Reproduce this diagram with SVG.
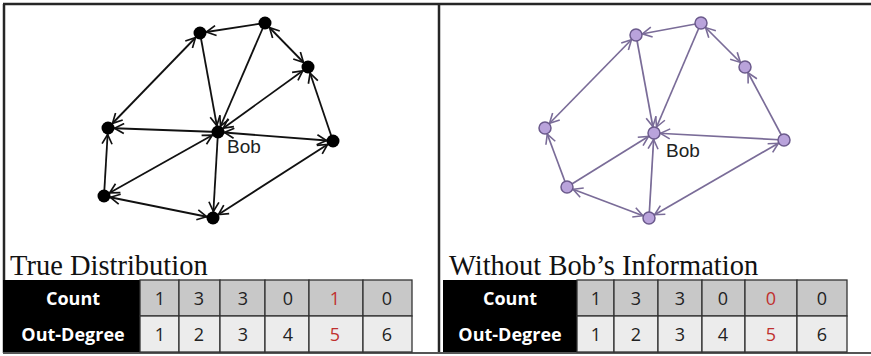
<svg xmlns="http://www.w3.org/2000/svg" width="871" height="356" viewBox="0 0 871 356">
<style>
.frame{stroke:#262626;stroke-width:2.5;fill:none}
.eb{stroke:#111;stroke-width:1.8;fill:none}
.ep{stroke:#7a6c98;stroke-width:1.7;fill:none}
.nb{fill:#000}
.np{fill:#b9a3db;stroke:#6b5a8c;stroke-width:1.5}
.bob{font-family:"Liberation Sans",Arial,sans-serif;font-size:19px;fill:#222}
.title{font-family:"Liberation Serif","Times New Roman",serif;font-size:28.5px;fill:#111}
.hdr{fill:#000}
.c1{fill:#c8c8c8;stroke:#333;stroke-width:1.3}
.c2{fill:#ececec;stroke:#333;stroke-width:1.3}
.hl{font-family:"Open Sans","Liberation Sans",sans-serif;font-weight:bold;font-size:18px;fill:#fff;text-anchor:middle}
.d{font-family:"Open Sans","Liberation Sans",sans-serif;font-size:18px;fill:#222;text-anchor:middle}
.red{fill:#c0302e}
</style>
<defs>
<marker id="ab" viewBox="0 0 22 12" refX="17" refY="6" markerWidth="22" markerHeight="12" markerUnits="userSpaceOnUse" orient="auto-start-reverse">
<path d="M1,1 L10.5,6 L1,11" fill="none" stroke="#111" stroke-width="1.7"/>
</marker>
<marker id="ap" viewBox="0 0 22 12" refX="17" refY="6" markerWidth="22" markerHeight="12" markerUnits="userSpaceOnUse" orient="auto-start-reverse">
<path d="M1,1 L10.5,6 L1,11" fill="none" stroke="#7a6c98" stroke-width="1.6"/>
</marker>
</defs>
<rect x="0" y="0" width="871" height="356" fill="#fff"/>
<g id="frame">
<line class="frame" x1="3" y1="4" x2="871" y2="4"/>
<line class="frame" x1="4" y1="4" x2="4" y2="353"/>
<line class="frame" x1="439" y1="4" x2="439" y2="353"/>
<line x1="3" y1="353" x2="871" y2="353" stroke="#555" stroke-width="2"/>
</g>
<g id="connectors-left">
<line class="eb" x1="265" y1="23" x2="200" y2="33" marker-end="url(#ab)"/>
<line class="eb" x1="200" y1="33" x2="108" y2="128" marker-start="url(#ab)" marker-end="url(#ab)"/>
<line class="eb" x1="200" y1="33" x2="218" y2="132" marker-end="url(#ab)"/>
<line class="eb" x1="265" y1="23" x2="218" y2="132" marker-end="url(#ab)"/>
<line class="eb" x1="265" y1="23" x2="308" y2="67" marker-start="url(#ab)" marker-end="url(#ab)"/>
<line class="eb" x1="218" y1="132" x2="308" y2="67" marker-start="url(#ab)" marker-end="url(#ab)"/>
<line class="eb" x1="333" y1="141" x2="308" y2="67" marker-end="url(#ab)"/>
<line class="eb" x1="218" y1="132" x2="333" y2="141" marker-start="url(#ab)" marker-end="url(#ab)"/>
<line class="eb" x1="218" y1="132" x2="108" y2="128" marker-end="url(#ab)"/>
<line class="eb" x1="218" y1="132" x2="104" y2="196" marker-start="url(#ab)" marker-end="url(#ab)"/>
<line class="eb" x1="218" y1="132" x2="213" y2="218" marker-end="url(#ab)"/>
<line class="eb" x1="104" y1="196" x2="108" y2="128" marker-end="url(#ab)"/>
<line class="eb" x1="213" y1="218" x2="104" y2="196" marker-start="url(#ab)" marker-end="url(#ab)"/>
<line class="eb" x1="213" y1="218" x2="333" y2="141" marker-start="url(#ab)" marker-end="url(#ab)"/>
</g>
<g id="nodes-left">
<g id="L-A"><circle class="nb" cx="200" cy="33" r="6.5"/></g>
<g id="L-B"><circle class="nb" cx="265" cy="23" r="6.5"/></g>
<g id="L-C"><circle class="nb" cx="308" cy="67" r="6.5"/></g>
<g id="L-D"><circle class="nb" cx="333" cy="141" r="6.5"/></g>
<g id="L-E"><circle class="nb" cx="108" cy="128" r="6.5"/></g>
<g id="L-F"><circle class="nb" cx="104" cy="196" r="6.5"/></g>
<g id="L-G"><circle class="nb" cx="213" cy="218" r="6.5"/></g>
<g id="L-Bob"><circle class="nb" cx="218" cy="132" r="6.5"/><text class="bob" x="227" y="153">Bob</text></g>
</g>
<g id="connectors-right">
<line class="ep" x1="701" y1="23" x2="636" y2="35" marker-end="url(#ap)"/>
<line class="ep" x1="636" y1="35" x2="545" y2="128" marker-start="url(#ap)" marker-end="url(#ap)"/>
<line class="ep" x1="636" y1="35" x2="654" y2="133" marker-end="url(#ap)"/>
<line class="ep" x1="701" y1="23" x2="654" y2="133" marker-end="url(#ap)"/>
<line class="ep" x1="701" y1="23" x2="745" y2="67" marker-start="url(#ap)" marker-end="url(#ap)"/>
<line class="ep" x1="784" y1="140" x2="745" y2="67" marker-end="url(#ap)"/>
<line class="ep" x1="784" y1="140" x2="654" y2="133" marker-end="url(#ap)"/>
<line class="ep" x1="567" y1="187" x2="545" y2="128" marker-end="url(#ap)"/>
<line class="ep" x1="567" y1="187" x2="654" y2="133" marker-end="url(#ap)"/>
<line class="ep" x1="649" y1="218" x2="654" y2="133" marker-end="url(#ap)"/>
<line class="ep" x1="649" y1="218" x2="567" y2="187" marker-start="url(#ap)" marker-end="url(#ap)"/>
<line class="ep" x1="649" y1="218" x2="784" y2="140" marker-start="url(#ap)" marker-end="url(#ap)"/>
</g>
<g id="nodes-right">
<g id="R-A"><circle class="np" cx="636" cy="35" r="6"/></g>
<g id="R-B"><circle class="np" cx="701" cy="23" r="6"/></g>
<g id="R-C"><circle class="np" cx="745" cy="67" r="6"/></g>
<g id="R-D"><circle class="np" cx="784" cy="140" r="6"/></g>
<g id="R-E"><circle class="np" cx="545" cy="128" r="6"/></g>
<g id="R-F"><circle class="np" cx="567" cy="187" r="6"/></g>
<g id="R-G"><circle class="np" cx="649" cy="218" r="6"/></g>
<g id="R-Bob"><circle class="np" cx="654" cy="133" r="6"/><text class="bob" x="666" y="157">Bob</text></g>
</g>
<g id="table-left">
<text class="title" x="10" y="275">True Distribution</text>
<rect class="hdr" x="3" y="280" width="137" height="72"/>
<text class="hl" x="73" y="305">Count</text>
<text class="hl" x="73" y="341">Out-Degree</text>
<rect class="c1" x="140" y="280" width="39" height="36"/>
<rect class="c1" x="179" y="280" width="41" height="36"/>
<rect class="c1" x="220" y="280" width="45" height="36"/>
<rect class="c1" x="265" y="280" width="44" height="36"/>
<rect class="c1" x="309" y="280" width="54" height="36"/>
<rect class="c1" x="363" y="280" width="49" height="36"/>
<rect class="c2" x="140" y="316" width="39" height="36"/>
<rect class="c2" x="179" y="316" width="41" height="36"/>
<rect class="c2" x="220" y="316" width="45" height="36"/>
<rect class="c2" x="265" y="316" width="44" height="36"/>
<rect class="c2" x="309" y="316" width="54" height="36"/>
<rect class="c2" x="363" y="316" width="49" height="36"/>
<text class="d" x="160" y="305">1</text>
<text class="d" x="199" y="305">3</text>
<text class="d" x="243" y="305">3</text>
<text class="d" x="288" y="305">0</text>
<text class="d red" x="335" y="305">1</text>
<text class="d" x="387" y="305">0</text>
<text class="d" x="160" y="341">1</text>
<text class="d" x="199" y="341">2</text>
<text class="d" x="243" y="341">3</text>
<text class="d" x="288" y="341">4</text>
<text class="d red" x="335" y="341">5</text>
<text class="d" x="387" y="341">6</text>
</g>
<g id="table-right">
<text class="title" x="449" y="275">Without Bob’s Information</text>
<rect class="hdr" x="443" y="280" width="134" height="72"/>
<text class="hl" x="510" y="305">Count</text>
<text class="hl" x="510" y="341">Out-Degree</text>
<rect class="c1" x="577" y="280" width="37" height="36"/>
<rect class="c1" x="614" y="280" width="44" height="36"/>
<rect class="c1" x="658" y="280" width="44" height="36"/>
<rect class="c1" x="702" y="280" width="43" height="36"/>
<rect class="c1" x="745" y="280" width="52" height="36"/>
<rect class="c1" x="797" y="280" width="50" height="36"/>
<rect class="c2" x="577" y="316" width="37" height="36"/>
<rect class="c2" x="614" y="316" width="44" height="36"/>
<rect class="c2" x="658" y="316" width="44" height="36"/>
<rect class="c2" x="702" y="316" width="43" height="36"/>
<rect class="c2" x="745" y="316" width="52" height="36"/>
<rect class="c2" x="797" y="316" width="50" height="36"/>
<text class="d" x="596" y="305">1</text>
<text class="d" x="636" y="305">3</text>
<text class="d" x="680" y="305">3</text>
<text class="d" x="723" y="305">0</text>
<text class="d red" x="771" y="305">0</text>
<text class="d" x="822" y="305">0</text>
<text class="d" x="596" y="341">1</text>
<text class="d" x="636" y="341">2</text>
<text class="d" x="680" y="341">3</text>
<text class="d" x="723" y="341">4</text>
<text class="d red" x="771" y="341">5</text>
<text class="d" x="822" y="341">6</text>
</g>
</svg>
